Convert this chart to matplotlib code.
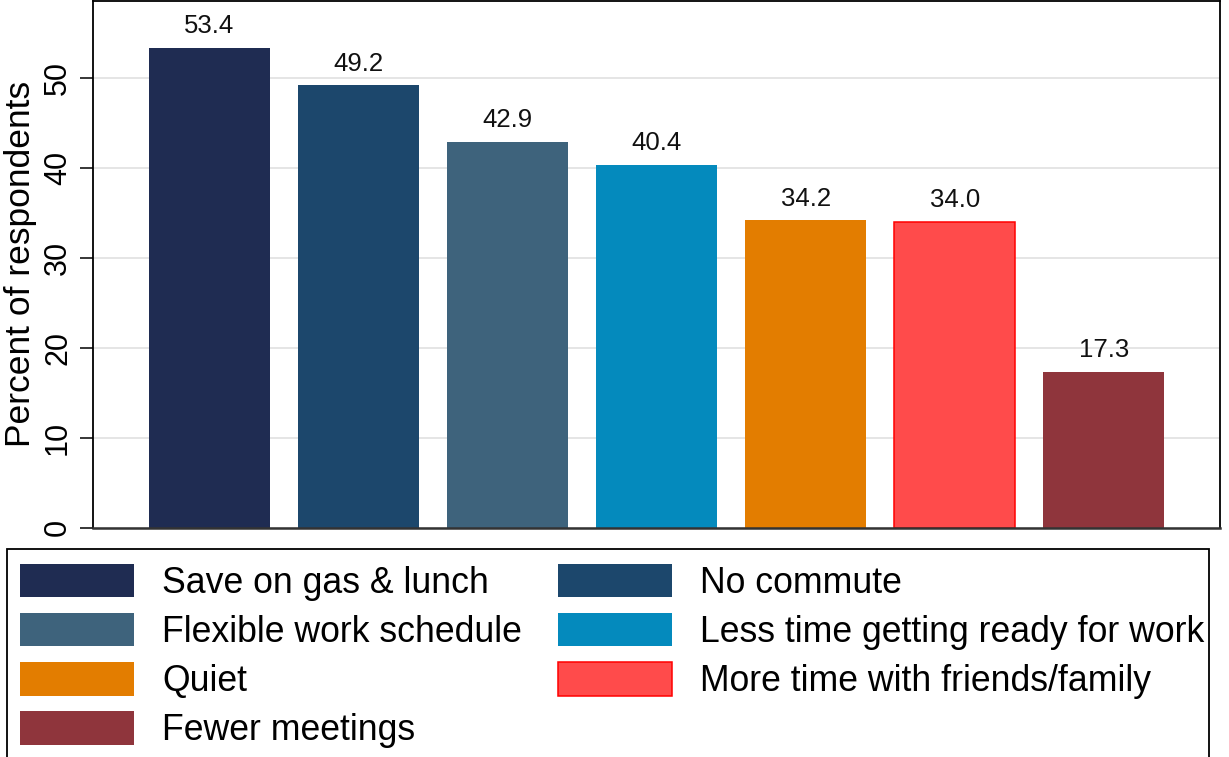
import numpy as np
import matplotlib
matplotlib.use("Agg")
import matplotlib.pyplot as plt
from matplotlib.patches import Rectangle, Patch

categories = ["Save on gas & lunch", "No commute", "Flexible work schedule",
              "Less time getting ready for work", "Quiet",
              "More time with friends/family", "Fewer meetings"]
percent = [53.4, 49.2, 42.9, 40.4, 34.2, 34.0, 17.3]
fill_colors = ["#1f2c52", "#1c476c", "#3e637c", "#048abd",
               "#e37d00", "#ff4b4b", "#8f353c"]
edge_colors = ["#1f2c52", "#1c476c", "#3e637c", "#048abd",
               "#e37d00", "#ff0000", "#8f353c"]
edge_widths = [0, 0, 0, 0, 0, 1.1, 0]
y_ticks = [0, 10, 20, 30, 40, 50]

plt.rcParams["font.family"] = ["Liberation Sans", "DejaVu Sans"]

W, H = 1229, 757
fig = plt.figure(figsize=(W / 100, H / 100), dpi=100)
ax = fig.add_axes([93 / W, 1 - 527.5 / H, (1220 - 93) / W, (527.5 - 1) / H])

x = np.arange(len(categories))
bars = ax.bar(x, percent, width=0.81, color=fill_colors,
              edgecolor=edge_colors, linewidth=edge_widths, zorder=2)
ax.bar_label(bars, labels=[f"{v:.1f}" for v in percent],
             padding=7, fontsize=18.5, color="#111111")

ax.set_xlim(-0.78, len(categories) - 1 + 0.78)
ax.set_ylim(0, 58.6)
ax.set_xticks([])
ax.set_yticks(y_ticks)
ax.set_yticklabels([str(t) for t in y_ticks], rotation=90, va="center")
ax.tick_params(axis="y", length=9.4, width=1.1, direction="out",
               labelsize=22, pad=5, color="black")
ax.yaxis.grid(True, color="#e0e0e0", linewidth=1.2, zorder=0)
ax.set_axisbelow(True)
ax.set_ylabel("Percent of respondents", fontsize=25.5, labelpad=4)

for side in ["left", "top", "right"]:
    ax.spines[side].set_linewidth(1.3)
    ax.spines[side].set_color("black")
ax.spines["bottom"].set_linewidth(1.8)
ax.spines["bottom"].set_color("#333333")

# legend: two columns laid out row by row
handles = [Patch(facecolor=fc, edgecolor=ec, linewidth=lw)
           for fc, ec, lw in zip(fill_colors, edge_colors, edge_widths)]
legend_kw = dict(loc="upper left", bbox_transform=fig.transFigure,
                 frameon=False, fontsize=25.7, handlelength=3.2,
                 handleheight=1.06, handletextpad=0.78, labelspacing=0.345,
                 borderpad=0, borderaxespad=0)
col1 = [0, 2, 4, 6]
col2 = [1, 3, 5]
fig.legend([handles[i] for i in col1], [categories[i] for i in col1],
           bbox_to_anchor=(20 / W, 1 - 564 / H), **legend_kw)
fig.legend([handles[i] for i in col2], [categories[i] for i in col2],
           bbox_to_anchor=(558 / W, 1 - 564 / H), **legend_kw)
fig.add_artist(Rectangle((7 / W, -12 / H), (1209 - 7) / W, (757 - 549 + 12) / H,
                         transform=fig.transFigure, fill=False,
                         edgecolor="black", linewidth=1.3))

fig.savefig("out.png", dpi=100)
